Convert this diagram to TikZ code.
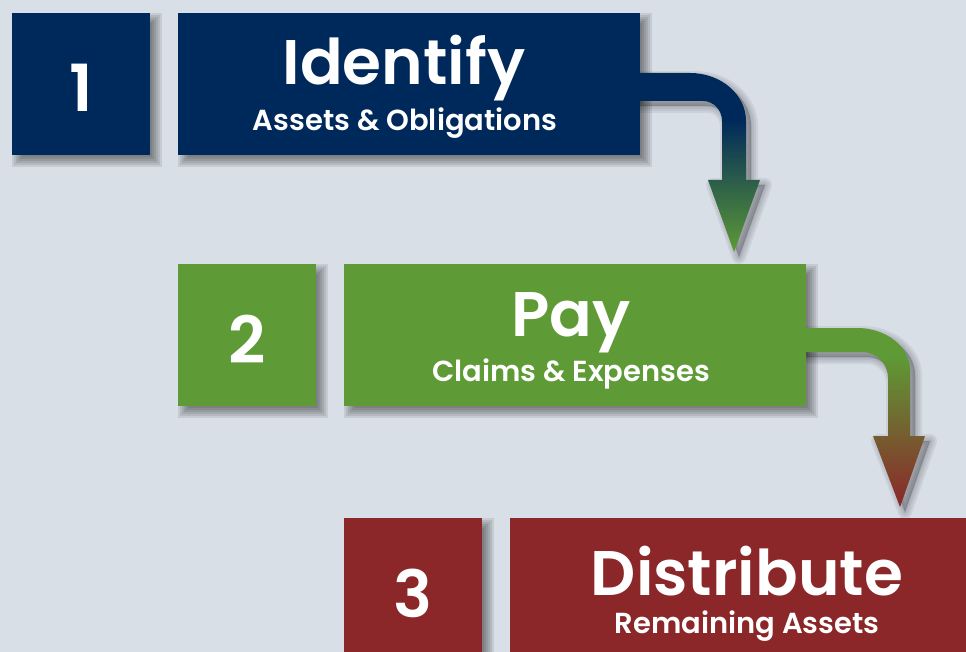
\documentclass[tikz,border=0pt]{standalone}
\usepackage{fontspec}
\setmainfont{Poppins}
\newfontfamily\labelfont{Poppins SemiBold}

\definecolor{navy}{RGB}{0,41,91}
\definecolor{leaf}{RGB}{94,154,54}
\definecolor{wine}{RGB}{139,38,41}
\definecolor{paper}{RGB}{217,223,231}

% arrow fills: the path box maps to 25bp (bottom) .. 75bp (top)
\pgfdeclareverticalshading{navytoleaf}{100bp}{color(0bp)=(leaf); color(25bp)=(leaf); color(62bp)=(navy); color(100bp)=(navy)}
\pgfdeclareverticalshading{leaftowine}{100bp}{color(0bp)=(wine); color(25bp)=(wine); color(67bp)=(leaf); color(100bp)=(leaf)}

\pgfdeclarelayer{shadow}
\pgfsetlayers{shadow,main}

\tikzset{
  numbox/.style={draw=none, rectangle, inner sep=0pt,
      minimum width=138pt, minimum height=142pt},
  stepbox/.style={draw=none, rectangle, inner sep=0pt,
      minimum width=462pt, minimum height=142pt},
  numtext/.style={anchor=base, text=white, font=\labelfont\fontsize{65}{65}\selectfont, inner sep=0pt},
  titletext/.style={anchor=base, text=white, font=\labelfont\fontsize{63}{63}\selectfont,
      inner sep=0pt, text depth=0pt},
  subtext/.style={anchor=base, text=white, font=\labelfont\fontsize{29}{29}\selectfont,
      inner sep=0pt, text height=21pt},
  shadowpiece/.style={fill=black, fill opacity=0.085, draw=none},
  arrowshadow/.style={fill=black, draw=black, opacity=0.06, line join=round, shift={(5,5)}},
}

% soft shadow behind a rectangular node: stacked, growing, translucent copies
\newcommand\boxshadow[1]{%
  \foreach \e in {-4,-2,0,2,4,6}
    \fill[shadowpiece] ([shift={(6-\e,6-\e)}]#1.north west) rectangle ([shift={(6+\e,6+\e)}]#1.south east);%
}

\begin{document}
\begin{tikzpicture}[x=1pt, y=-1pt]
  % canvas
  \begin{pgfonlayer}{shadow}
    \fill[paper] (0,0) rectangle (966,652);
  \end{pgfonlayer}
  \useasboundingbox (0,0) rectangle (966,652);

  % step 1
  \node[numbox, fill=navy] (n1) at (81,84) {};
  \node[stepbox, fill=navy] (s1) at (409,84) {};
  \node[numtext] (n1t) at (n1.center |- 0,112) {1};
  \node[titletext] (s1t) at (404,85) {Identify};
  \node[subtext] (s1s) at (405,131) {Assets \& Obligations};

  % step 2
  \node[numbox, fill=leaf] (n2) at (247,335) {};
  \node[stepbox, fill=leaf] (s2) at (575,335) {};
  \node[numtext] (n2t) at (n2.center |- 0,363) {2};
  \node[titletext] (s2t) at (571,336) {Pay};
  \node[subtext] (s2s) at (571,381) {Claims \& Expenses};

  % step 3 (runs past the lower and right edges)
  \node[numbox, fill=wine, minimum height=162pt] (n3) at (413,599) {};
  \node[stepbox, fill=wine, minimum width=470pt, minimum height=162pt] (s3) at (745,599) {};
  \node[numtext] (n3t) at (n3.center |- 0,617) {3};
  \node[titletext] (s3t) at (747,595) {Distribute};
  \node[subtext] (s3s) at (747,633) {Remaining Assets};

  % outlines of the two bent arrows
  \def\arrowone{(s1.east |- 0,73) -- (690,73)
    arc[start angle=270, end angle=360, x radius=56, y radius=48]
    -- (746,180) -- (760,180) -- (734,252) -- (708,180) -- (722,180) -- (722,121)
    arc[start angle=0, end angle=-90, x radius=19, y radius=20]
    -- (s1.east |- 0,101) -- cycle}
  \def\arrowtwo{(s2.east |- 0,328) -- (857,328)
    arc[start angle=270, end angle=360, x radius=53, y radius=42]
    -- (910,436) -- (925,436) -- (900,507) -- (873,436) -- (888,436) -- (888,378)
    arc[start angle=0, end angle=-90, radius=26]
    -- (s2.east |- 0,352) -- cycle}

  \begin{pgfonlayer}{shadow}
    \boxshadow{n1}\boxshadow{s1}
    \boxshadow{n2}\boxshadow{s2}
    \boxshadow{n3}\boxshadow{s3}
    \foreach \w in {14,10,6,2} {
      \path[arrowshadow, line width=\w pt] \arrowone;
      \path[arrowshadow, line width=\w pt] \arrowtwo;
    }
  \end{pgfonlayer}

  % step 1 -> step 2, step 2 -> step 3
  \path[shading=navytoleaf] \arrowone;
  \path[shading=leaftowine] \arrowtwo;
\end{tikzpicture}
\end{document}
